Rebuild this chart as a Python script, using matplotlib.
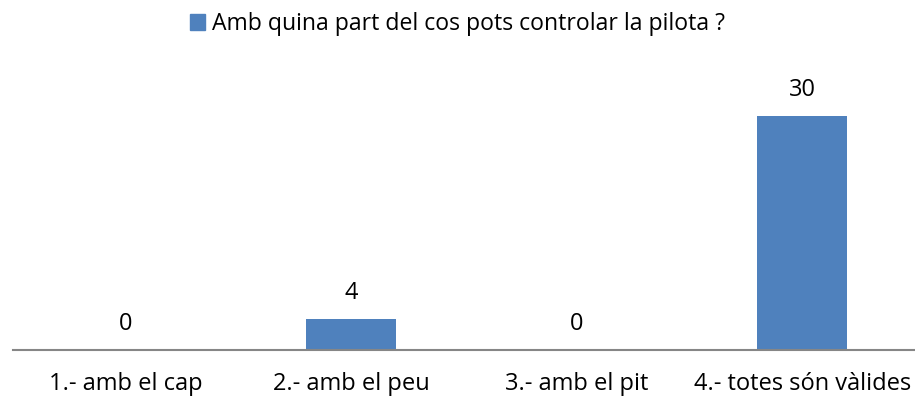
import matplotlib.pyplot as plt
from matplotlib.patches import Patch

plt.rcParams["font.family"] = ["Open Sans", "DejaVu Sans"]

categories = ["1.- amb el cap", "2.- amb el peu", "3.- amb el pit", "4.- totes són vàlides"]
values = [0, 4, 0, 30]
series_name = "Amb quina part del cos pots controlar la pilota ?"

BAR_COLOR = "#4f81bd"
FS = 17


def plot_data(output_path="out.png"):
    fig = plt.figure(figsize=(9.15, 4.0), dpi=100)
    ax = fig.add_axes([0.0142, 0.125, 0.9858, 0.675])

    x = range(len(categories))
    ax.bar(x, values, width=0.4, color=BAR_COLOR)
    for xi, v in zip(x, values):
        ax.annotate(str(v), (xi, v), xytext=(0, 10), textcoords="offset points",
                    ha="center", va="bottom", fontsize=FS, color="#000000")

    ax.set_xlim(-0.5, len(categories) - 0.5)
    ax.set_ylim(0, 34.6)
    ax.set_xticks(list(x))
    ax.set_xticklabels(categories, fontsize=FS)
    ax.tick_params(axis="x", length=0, pad=16)
    ax.set_yticks([])
    for side in ("top", "right", "left"):
        ax.spines[side].set_visible(False)
    ax.spines["bottom"].set_color("#868686")
    ax.spines["bottom"].set_linewidth(1.5)

    fig.legend(handles=[Patch(color=BAR_COLOR, label=series_name)],
               loc="center", bbox_to_anchor=(0.5, 0.94), frameon=False,
               fontsize=16.6, handlelength=0.66, handleheight=0.66, handletextpad=0.3)

    fig.savefig(output_path, dpi=100)


if __name__ == "__main__":
    plot_data()
